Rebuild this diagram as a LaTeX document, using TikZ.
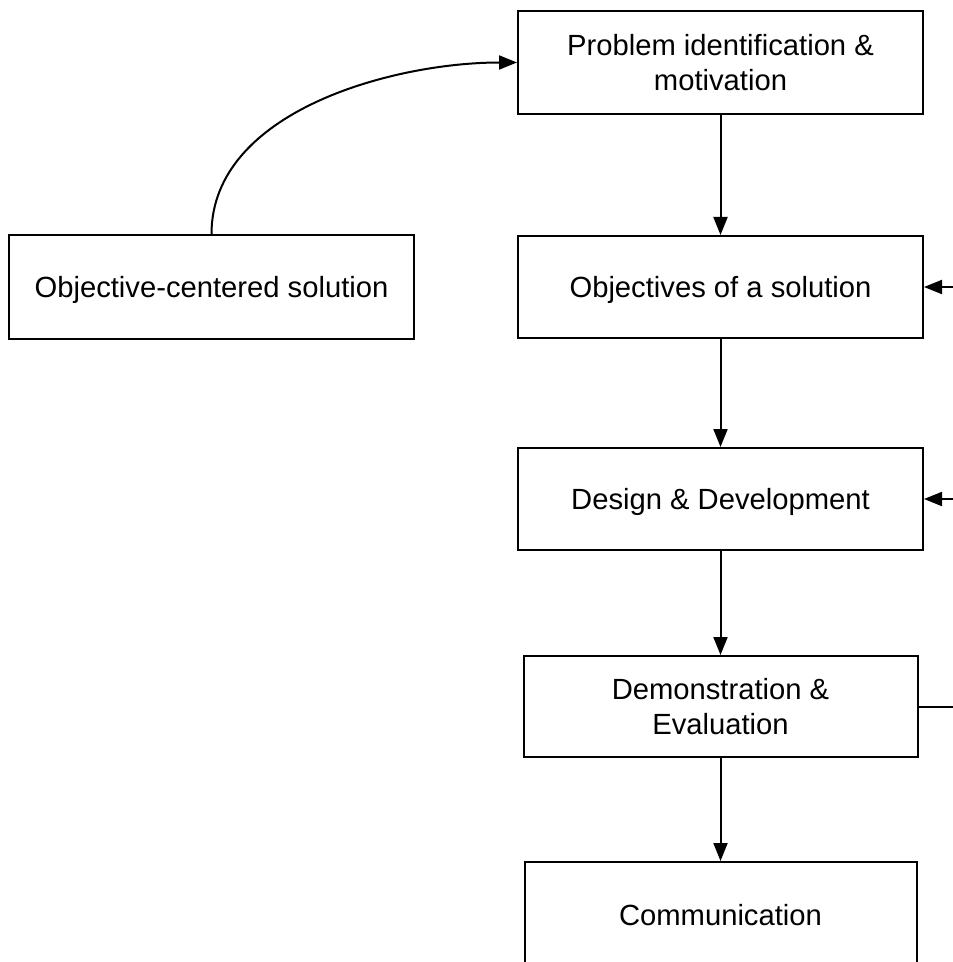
\documentclass[tikz,border=0pt]{standalone}
\usepackage{fontspec}
\setmainfont{Liberation Sans}
\usetikzlibrary{positioning, arrows.meta}

\begin{document}
\begin{tikzpicture}[
	x=0.5pt,
	y=-0.5pt,
	phase box/.style={rectangle, draw, line width=1pt, minimum width=202.5pt, minimum height=51pt, align=center, text depth=0pt, font=\fontsize{14.6}{17.5}\selectfont},
	>={Triangle[length=9pt, width=7pt]},
	line width=1pt
]
\useasboundingbox (0,0) rectangle (952,962);

\node[phase box, minimum height=51.5pt] (prob) at (720.5,62.5) {Problem identification \&\\motivation};
\node[phase box, below=60pt of prob] (obj) {Objectives of a solution};
\node[phase box, below=54pt of obj] (design) {Design \& Development};
\node[phase box, minimum width=197pt, minimum height=50.5pt, below=52pt of design] (demo) {Demonstration \&\\Evaluation};
\node[phase box, minimum width=196pt, minimum height=53pt, below=51.5pt of demo] (comm) {Communication};
\node[phase box, minimum height=52pt, left=51pt of obj] (objsol) {Objective-centered solution};

% loop coming in from the right
\coordinate[right=15pt of obj.east] (inObj);
\coordinate[right=15pt of design.east] (inDesign);
\coordinate[right=18pt of demo.east] (outDemo);

\draw[->] (prob) -- (obj);
\draw[->] (obj) -- (design);
\draw[->] (design) -- (demo);
\draw[->] (demo) -- (comm);

\draw[->] (objsol.north) to[out=90, in=180, looseness=0.9] (prob.west);

\draw[->] (inObj) -- (obj.east);
\draw[->] (inDesign) -- (design.east);
\draw (demo.east) -- (outDemo);

\end{tikzpicture}
\end{document}
